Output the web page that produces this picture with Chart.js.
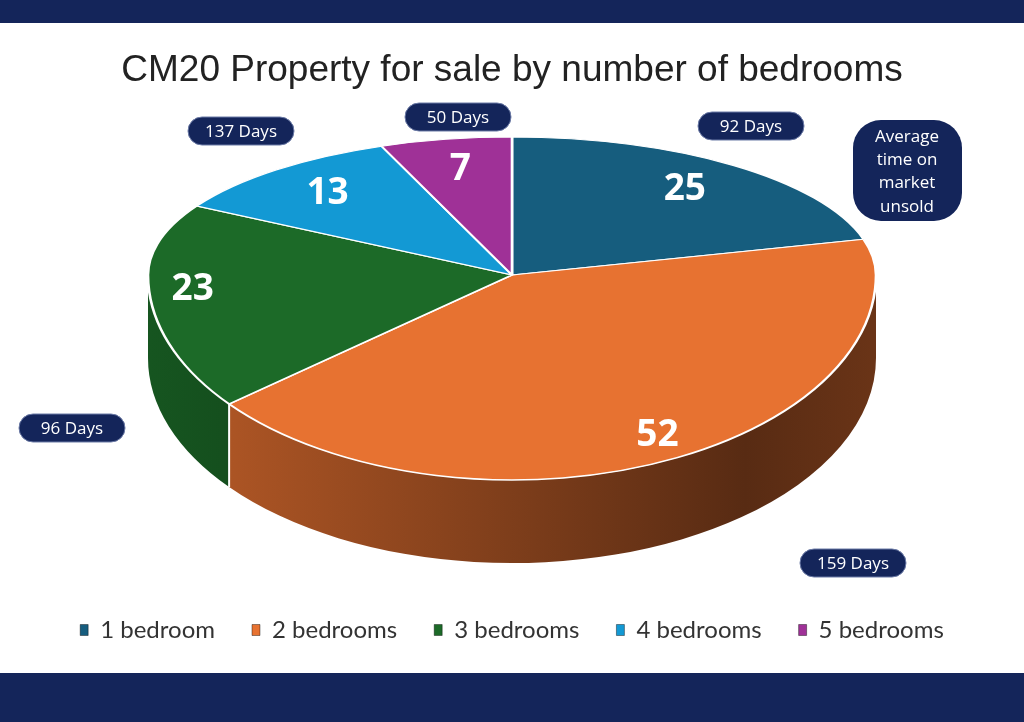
<!DOCTYPE html>
<html>
<head>
<meta charset="utf-8">
<title>CM20 Property for sale by number of bedrooms</title>
<script src="https://cdn.jsdelivr.net/npm/chart.js@4.4.1/dist/chart.umd.min.js"></script>
<style>
  html, body { margin: 0; padding: 0; background: #14255a; overflow: hidden; }
  #frame { position: absolute; left: 0; top: 23px; width: 1024px; height: 650px; background: #fff; }
</style>
</head>
<body>
<div id="frame"><canvas id="myChart" width="1024" height="650"></canvas></div>
<script>
var bedrooms = ['1 bedroom', '2 bedrooms', '3 bedrooms', '4 bedrooms', '5 bedrooms'];
var forSale = [25, 52, 23, 13, 7];
var daysOnMarket = ['92 Days', '159 Days', '96 Days', '137 Days', '50 Days'];
var keyNote = ['Average', 'time on', 'market', 'unsold'];

var sliceColours = ['#165d7e', '#e77231', '#1c6a28', '#1399d4', '#9f3197'];
var navy = '#14255a';

// look of the tilted pie: back half is flatter than the front half (fake perspective)
var PIE_RX = 364, PIE_RY_BACK = 138, PIE_RY_FRONT = 205, PIE_DEPTH = 83;
// where each "days" badge sits (centre, canvas px), same order as bedrooms
var badgeAt = [[751, 103], [853, 540], [72, 405], [241, 108], [458, 94]];

function shade(hex, f) {
    var n = parseInt(hex.slice(1), 16);
    var r = Math.round(((n >> 16) & 255) * f);
    var g = Math.round(((n >> 8) & 255) * f);
    var b = Math.round((n & 255) * f);
    return 'rgb(' + r + ',' + g + ',' + b + ')';
}

function tilt(chart) {
    var area = chart.chartArea;
    var arc = chart.getDatasetMeta(0).data[0];
    return {
        cx: arc.x, cy: area.top + PIE_RY_BACK,
        ox: arc.x, oy: arc.y,
        sx: PIE_RX / arc.outerRadius,
        syBack: PIE_RY_BACK / arc.outerRadius,
        syFront: PIE_RY_FRONT / arc.outerRadius
    };
}

// clip to one half of the face and squash the flat pie into it
function half(ctx, t, front) {
    ctx.save();
    ctx.beginPath();
    if (front) ctx.rect(0, t.cy, ctx.canvas.width, ctx.canvas.height);
    else ctx.rect(0, 0, ctx.canvas.width, t.cy);
    ctx.clip();
    ctx.translate(t.cx, t.cy);
    ctx.scale(t.sx, front ? t.syFront : t.syBack);
    ctx.translate(-t.ox, -t.oy);
}

function pill(ctx, cx, cy, w, h, r, text) {
    ctx.beginPath();
    ctx.roundRect(cx - w / 2, cy - h / 2, w, h, r);
    ctx.fillStyle = navy;
    ctx.fill();
    ctx.strokeStyle = '#6b7aa6';
    ctx.lineWidth = 1;
    ctx.stroke();
    ctx.fillStyle = '#fff';
    ctx.fillText(text, cx, cy + 1);
}

var pie3d = {
    id: 'pie3d',
    beforeDatasetsDraw: function (chart) {
        var ctx = chart.ctx;
        var arcs = chart.getDatasetMeta(0).data;
        var t = tilt(chart);
        // the wall round the front of the pie
        arcs.forEach(function (arc, i) {
            var a = Math.max(arc.startAngle, 0), b = Math.min(arc.endAngle, Math.PI);
            if (b <= a) return;
            var grad = ctx.createLinearGradient(t.cx - PIE_RX, 0, t.cx + PIE_RX, 0);
            grad.addColorStop(0, shade(sliceColours[i], 0.8));
            grad.addColorStop(0.82, shade(sliceColours[i], 0.38));
            grad.addColorStop(1, shade(sliceColours[i], 0.46));
            ctx.beginPath();
            ctx.ellipse(t.cx, t.cy, PIE_RX, PIE_RY_FRONT, 0, a, b);
            ctx.ellipse(t.cx, t.cy + PIE_DEPTH, PIE_RX, PIE_RY_FRONT, 0, b, a, true);
            ctx.closePath();
            ctx.fillStyle = grad;
            ctx.fill();
        });
        arcs.forEach(function (arc) {
            var s = arc.startAngle;
            if (s <= 0 || s >= Math.PI) return;
            var x = t.cx + PIE_RX * Math.cos(s), y = t.cy + PIE_RY_FRONT * Math.sin(s);
            ctx.beginPath();
            ctx.moveTo(x, y);
            ctx.lineTo(x, y + PIE_DEPTH);
            ctx.strokeStyle = '#fff';
            ctx.lineWidth = 2;
            ctx.stroke();
        });
        half(ctx, t, false);
    },
    afterDatasetsDraw: function (chart) {
        var ctx = chart.ctx;
        ctx.restore();
        var arcs = chart.getDatasetMeta(0).data;
        var t = tilt(chart);
        half(ctx, t, true);
        arcs.forEach(function (arc) { arc.draw(ctx); });
        ctx.restore();

        ctx.save();
        ctx.textAlign = 'center';
        ctx.textBaseline = 'middle';
        ctx.font = 'bold 37px "Noto Sans"';
        ctx.fillStyle = '#fff';
        arcs.forEach(function (arc, i) {
            var mid = (arc.startAngle + arc.endAngle) / 2;
            var s = Math.sin(mid);
            var r = arc.outerRadius * (s < 0 ? 0.78 : 0.88);
            var x = t.cx + t.sx * r * Math.cos(mid);
            var y = t.cy + (s < 0 ? t.syBack : t.syFront) * r * s;
            ctx.fillText(String(forSale[i]), x, y);
        });
        ctx.font = '17px "Open Sans"';
        daysOnMarket.forEach(function (d, i) {
            pill(ctx, badgeAt[i][0], badgeAt[i][1], 106, 28, 14, d);
        });
        ctx.beginPath();
        ctx.roundRect(853, 97, 109, 101, 28);
        ctx.fillStyle = navy;
        ctx.fill();
        ctx.fillStyle = '#fff';
        keyNote.forEach(function (line, i) {
            ctx.fillText(line, 907, 114 + i * 23.3);
        });
        ctx.restore();
    }
};

var ctx = document.getElementById('myChart').getContext('2d');
var myChart = new Chart(ctx, {
    type: 'pie',
    data: {
        labels: bedrooms,
        datasets: [{
            label: 'Property for sale',
            data: forSale,
            backgroundColor: sliceColours,
            borderColor: '#ffffff',
            borderWidth: 1.6,
            clip: false
        }]
    },
    options: {
        responsive: false,
        animation: false,
        events: [],
        layout: {
            padding: { bottom: 21 }
        },
        plugins: {
            tooltip: { enabled: false },
            legend: {
                position: 'bottom',
                labels: {
                    boxWidth: 8,
                    boxHeight: 11,
                    padding: 37,
                    color: '#333333',
                    font: { family: 'Lato', size: 24 },
                    generateLabels: function (chart) {
                        var items = Chart.overrides.doughnut.plugins.legend.labels.generateLabels(chart);
                        items.forEach(function (it) {
                            it.strokeStyle = 'rgba(0,0,0,0.4)';
                            it.lineWidth = 1;
                        });
                        return items;
                    }
                }
            },
            title: {
                display: true,
                text: 'CM20 Property for sale by number of bedrooms',
                color: '#222222',
                font: { family: 'Liberation Sans', size: 37, weight: 'normal' },
                padding: { top: 26, bottom: 43.6 }
            }
        }
    },
    plugins: [pie3d]
});
</script>
</body>
</html>
